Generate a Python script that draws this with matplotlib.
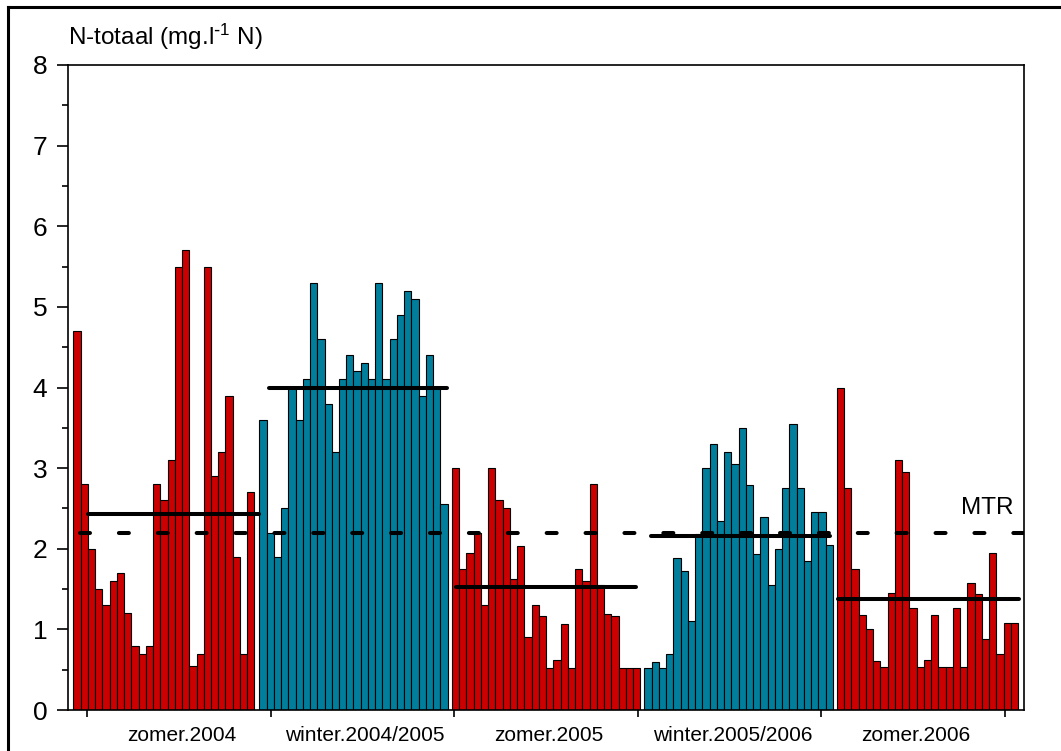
import numpy as np
import matplotlib.pyplot as plt
from matplotlib.lines import Line2D
from matplotlib.transforms import blended_transform_factory

plt.rcParams['font.family'] = ['Liberation Sans', 'DejaVu Sans']
plt.rcParams['mathtext.default'] = 'regular'
plt.rcParams['lines.scale_dashes'] = False

# N-totaal per meting (mg/l N), per seizoen
zomer_2004 = [4.7, 2.8, 2.0, 1.5, 1.3, 1.6, 1.7, 1.2, 0.8, 0.7, 0.8, 2.8, 2.6,
              3.1, 5.5, 5.7, 0.55, 0.7, 5.5, 2.9, 3.2, 3.9, 1.9, 0.7, 2.7]
winter_2004_2005 = [3.6, 2.2, 1.9, 2.5, 4.0, 3.6, 4.1, 5.3, 4.6, 3.8, 3.2, 4.1, 4.4,
                    4.2, 4.3, 4.1, 5.3, 4.1, 4.6, 4.9, 5.2, 5.1, 3.9, 4.4, 4.0, 2.55]
zomer_2005 = [3.0, 1.75, 1.95, 2.2, 1.3, 3.0, 2.6, 2.5, 1.62, 2.03, 0.91, 1.3, 1.16,
              0.52, 0.62, 1.07, 0.52, 1.75, 1.6, 2.8, 1.55, 1.19, 1.17, 0.52, 0.52, 0.52]
winter_2005_2006 = [0.52, 0.6, 0.52, 0.7, 1.89, 1.73, 1.1, 2.18, 3.0, 3.3, 2.34, 3.2, 3.05,
                    3.5, 2.79, 1.94, 2.4, 1.55, 2.0, 2.75, 3.55, 2.75, 1.85, 2.45, 2.45, 2.05]
zomer_2006 = [4.0, 2.75, 1.75, 1.18, 1.01, 0.61, 0.53, 1.45, 3.1, 2.95, 1.27, 0.53, 0.62,
              1.18, 0.53, 0.53, 1.27, 0.53, 1.58, 1.44, 0.88, 1.95, 0.69, 1.08, 1.08]

seizoenen = ['zomer.2004', 'winter.2004/2005', 'zomer.2005', 'winter.2005/2006', 'zomer.2006']
reeksen = [zomer_2004, winter_2004_2005, zomer_2005, winter_2005_2006, zomer_2006]
mtr = 2.2

rood = '#CC0000'
blauw = '#007E9C'
kleuren = [rood, blauw, rood, blauw, rood]

# x in breedtes van een staaf
start = [0.73, 26.39, 52.97, 79.54, 106.1]
gemiddeld_van_tot = [(2.7, 26.3), (27.7, 52.3), (53.5, 78.3), (80.5, 105.2), (106.3, 131.2)]
grenzen = [2.66, 27.96, 53.24, 78.62, 103.96, 129.3]

fig = plt.figure(figsize=(10.61, 7.51), dpi=100)
ax = fig.add_axes([68 / 1061, 1 - 710 / 751, 956 / 1061, 645 / 751])

for s, waarden, kleur in zip(start, reeksen, kleuren):
    x = s + np.arange(len(waarden))
    ax.bar(x, waarden, width=1, align='edge', color=kleur,
           edgecolor='black', linewidth=0.8, zorder=2)

# seizoensgemiddelden
for (x0, x1), waarden in zip(gemiddeld_van_tot, reeksen):
    m = np.mean(waarden)
    ax.plot([x0, x1], [m, m], color='black', lw=2.9,
            solid_capstyle='round', zorder=4)

# MTR-norm
ax.plot([1.7, 140], [mtr, mtr], color='black', lw=2.9,
        dashes=(7.2, 20.8), dash_capstyle='round', zorder=5)
ax.text(130.4, 2.51, 'MTR', ha='right', va='center', fontsize=17.5)

ax.set_xlim(0, 131.9)
ax.set_ylim(0, 8)

ax.set_yticks(range(0, 9))
ax.set_yticks(np.arange(0.5, 8, 1), minor=True)
ax.tick_params(axis='y', which='major', direction='out', length=8, width=1.2,
               labelsize=19, pad=7)
ax.tick_params(axis='y', which='minor', direction='out', length=4.3, width=1.2)

ax.set_xticks(grenzen)
ax.set_xticklabels([])
ax.tick_params(axis='x', which='major', direction='out', length=5, width=1.2)

trans = blended_transform_factory(ax.transData, ax.transAxes)
for i, naam in enumerate(seizoenen):
    xm = (grenzen[i] + grenzen[i + 1]) / 2 + 0.4
    ax.text(xm, -0.048, naam, transform=trans, ha='center', va='baseline', fontsize=15)

for sp in ax.spines.values():
    sp.set_linewidth(1.2)

ax.annotate(r'N-totaal (mg.l$^{\text{-}1}$ N)', xy=(0, 1), xycoords='axes fraction',
            xytext=(0, 14.4), textcoords='offset points',
            ha='left', va='baseline', fontsize=17.5)

# kader om de figuur
fig.add_artist(Line2D([8 / 1061, 8 / 1061], [0, 1 - 7 / 751], color='black', lw=2.2))
fig.add_artist(Line2D([8 / 1061, 1], [1 - 7 / 751, 1 - 7 / 751], color='black', lw=2.2))

plt.savefig('out.png', dpi=100)
